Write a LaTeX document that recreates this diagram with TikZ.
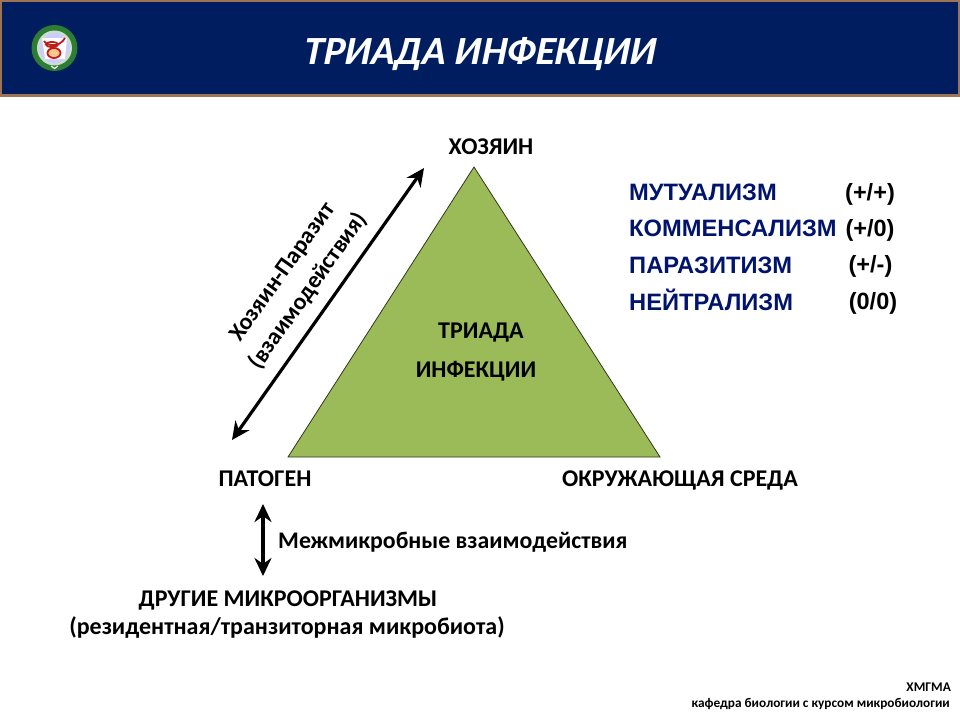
\documentclass[tikz,border=0pt]{standalone}
\usepackage{fontspec}
\setmainfont{Carlito}
\newfontfamily\arialfont{Liberation Sans}
\newfontfamily\titlefont[BoldFeatures={FakeSlant=0.2}]{Carlito}
\usetikzlibrary{arrows.meta,positioning,calc}
\definecolor{cband}{RGB}{0,30,95}
\definecolor{cedge}{RGB}{160,115,85}
\definecolor{ctri}{RGB}{155,187,89}
\definecolor{cterm}{RGB}{0,20,110}
\definecolor{clogo}{RGB}{45,125,50}
\definecolor{crim}{RGB}{190,30,25}
\tikzset{
  lab/.style={font=\fontsize{24}{27}\selectfont\bfseries, text=black, inner sep=0pt, anchor=base},
  term/.style={font=\arialfont\fontsize{23.7}{26}\selectfont\bfseries, text=cterm, anchor=base west, inner sep=0pt},
  sgn/.style={font=\arialfont\fontsize{23.5}{26}\selectfont\bfseries, text=black, inner sep=0pt, anchor=base},
  dbl/.style={{Stealth[length=18pt,width=17pt]}-{Stealth[length=18pt,width=17pt]}, black, line width=3.2pt},
  small/.style={font=\fontsize{13.3}{15}\selectfont\bfseries, inner sep=0pt, anchor=base east},
}
\begin{document}
\begin{tikzpicture}[x=1pt,y=-1pt]
    \useasboundingbox (0,0) rectangle (960,720);
    \fill[white] (0,0) rectangle (960,720);
    % header
    \draw[fill=cband, draw=cedge, line width=2.5pt] (1,1) rectangle (959,95.5);
    \node[font=\titlefont\fontsize{40}{42}\selectfont\bfseries, text=white, anchor=base, inner sep=0pt] (title) at (478.5,64) {ТРИАДА ИНФЕКЦИИ};
    % logo
    \fill[clogo] (54.5,48) circle (23);
    \fill[white!75!clogo] (54.5,48) circle (17.5);
    \fill[white!80!blue] (54.5,48) circle (15);
    \fill[white] (42,38) -- (67,38) -- (65,59) -- (45,59) -- cycle;
    \draw[crim, line width=1.8pt] (44,41) .. controls (48,47) and (60,47) .. (65,38);
    \fill[orange!45] (54,53) circle (6 and 4.5);
    \draw[crim, line width=1.8pt] (54,53) circle (6.5 and 5);
    \draw[crim, line width=1.8pt] (52,44.5) circle (6 and 2.5);
    \draw[white, line width=1.2pt] (51,66) -- (54.5,68.5) -- (58,66);
    % triangle
    \node[lab] (host) at (491,154) {ХОЗЯИН};
    \node[lab] (pathogen) at (265,486) {ПАТОГЕН};
    \node[lab] (env) at (680,486) {ОКРУЖАЮЩАЯ СРЕДА};
    \coordinate (apex) at (474,167);
    \coordinate (left) at (288,457);
    \coordinate (right) at (660,457);
    \draw[fill=ctri, draw=black!70!ctri, line width=0.8pt] (apex) -- (left) -- (right) -- cycle;
    \node[lab] (triadA) at (481,338) {ТРИАДА};
    \node[lab] (triadB) at (476,377) {ИНФЕКЦИИ};
    % side arrow
    \coordinate (hpa) at (424,168);
    \coordinate (hpb) at (232,440);
    \draw[dbl] (hpa) -- (hpb);
    \node[font=\fontsize{23.7}{32}\selectfont\bfseries, align=center, rotate=54.5, inner sep=0pt] (hostpar) at (296,282) {Хозяин-Паразит\\(взаимодействия)};
    % terms
    \node[term] (mut) at (629,200) {МУТУАЛИЗМ};
    \node[term] (com) at (629,236) {КОММЕНСАЛИЗМ};
    \node[term] (par) at (629,273) {ПАРАЗИТИЗМ};
    \node[term] (neu) at (629,310) {НЕЙТРАЛИЗМ};
    \node[sgn] (mutS) at (870,200) {(+/+)};
    \node[sgn] (comS) at (870,236) {(+/0)};
    \node[sgn] (parS) at (870.5,272) {(+/-)};
    \node[sgn] (neuS) at (873,309) {(0/0)};
    % microbes
    \node[lab, anchor=base west, font=\fontsize{23.8}{27}\selectfont\bfseries] (inter) at (278,548) {Межмикробные взаимодействия};
    \coordinate (mba) at (263,504);
    \coordinate (mbb) at (263,576);
    \draw[dbl] (mba) -- (mbb);
    \node[lab] (other) at (288,606) {ДРУГИЕ МИКРООРГАНИЗМЫ};
    \node[lab] (resident) at (287,634) {(резидентная/транзиторная микробиота)};
    % footer
    \node[small] (uni) at (951,691) {ХМГМА};
    \node[small] (dept) at (950,707) {кафедра биологии с курсом микробиологии};
\end{tikzpicture}
\end{document}
